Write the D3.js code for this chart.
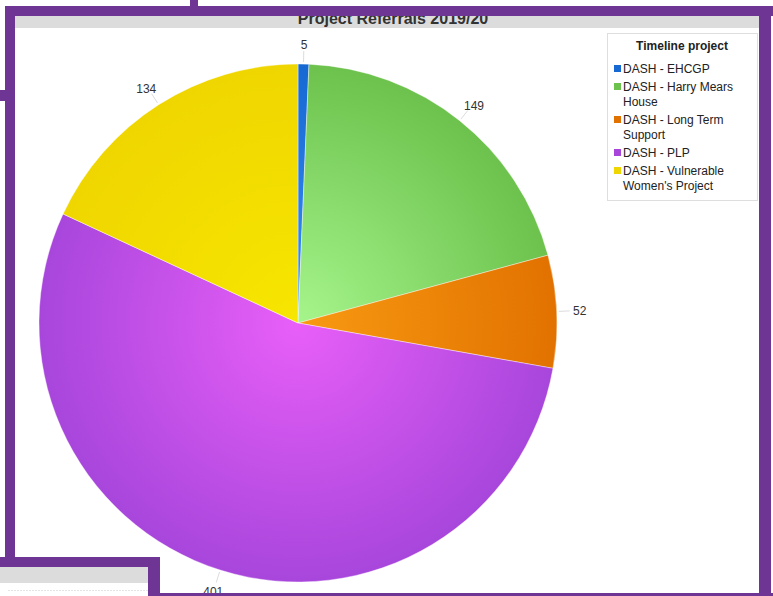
<!DOCTYPE html>
<html><head><meta charset="utf-8">
<script src="https://cdn.jsdelivr.net/npm/d3@7"></script>
<style>html,body{margin:0;padding:0;background:#fff;}svg{display:block;font-family:"Liberation Sans",Arial,sans-serif;}</style>
</head><body>
<svg id="c" width="773" height="596"></svg>
<script>
const title = "Project Referrals 2019/20";
const legendTitle = "Timeline project";
const categories = ["DASH - EHCGP", "DASH - Harry Mears House", "DASH - Long Term Support", "DASH - PLP", "DASH - Vulnerable Women's Project"];
const values = [5, 149, 52, 401, 134];
const baseColors = ["#1668d2", "#6cc24c", "#e27200", "#a846dc", "#efd600"];
const centerColors = ["#3a90f4", "#a6f58c", "#f89a12", "#e85ff8", "#f7e600"];

const svg = d3.select("#c");
const cx = 298, cy = 323, R = 259;

// title (partly hidden behind frame)
svg.append("rect").attr("x", 15).attr("y", 16).attr("width", 745).attr("height", 12).attr("fill", "#dcdcdc");
svg.append("text").attr("x", 393).attr("y", 23.5).attr("text-anchor", "middle")
  .attr("font-size", 16).attr("font-weight", "bold").attr("fill", "#333").text(title);

const defs = svg.append("defs");
baseColors.forEach((c, i) => {
  const gr = defs.append("radialGradient").attr("id", "g" + i)
    .attr("gradientUnits", "userSpaceOnUse").attr("cx", 0).attr("cy", 0).attr("r", R);
  gr.append("stop").attr("offset", "0%").attr("stop-color", centerColors[i]);
  gr.append("stop").attr("offset", "100%").attr("stop-color", c);
});

const pie = d3.pie().sort(null).value(d => d)(values);
const arc = d3.arc().innerRadius(0).outerRadius(R);
const g = svg.append("g").attr("transform", `translate(${cx},${cy})`);
g.selectAll("path.s").data(pie).join("path").attr("class", "s")
  .attr("d", arc).attr("fill", (d, i) => `url(#g${i})`)
  .attr("stroke", "#ffffff").attr("stroke-width", 0.4);

const lineArcIn = d3.arc().innerRadius(R + 2).outerRadius(R + 2);
const lineArcOut = d3.arc().innerRadius(R + 13).outerRadius(R + 13);
const labArc = d3.arc().innerRadius(R + 23).outerRadius(R + 23);
g.selectAll("line.l").data(pie).join("line").attr("class", "l")
  .attr("x1", d => lineArcIn.centroid(d)[0]).attr("y1", d => lineArcIn.centroid(d)[1])
  .attr("x2", d => lineArcOut.centroid(d)[0]).attr("y2", d => lineArcOut.centroid(d)[1])
  .attr("stroke", "#dcdcdc").attr("stroke-width", 1);
g.selectAll("text.v").data(pie).join("text").attr("class", "v")
  .attr("x", d => labArc.centroid(d)[0])
  .attr("y", d => { const p = labArc.centroid(d); return p[1] + (p[1] < -100 ? 7.5 : 4.5); })
  .attr("text-anchor", "middle").attr("font-size", 12).attr("fill", "#333")
  .text(d => d.data);

// legend
const lg = svg.append("g");
lg.append("rect").attr("x", 607.5).attr("y", 33.5).attr("width", 150).attr("height", 167)
  .attr("fill", "#fff").attr("stroke", "#dedede");
lg.append("text").attr("x", 682).attr("y", 50).attr("text-anchor", "middle")
  .attr("font-size", 12).attr("font-weight", "bold").attr("fill", "#222").text(legendTitle);
let y = 73;
categories.forEach((c, i) => {
  lg.append("rect").attr("x", 614).attr("y", y - 8).attr("width", 7).attr("height", 7).attr("fill", baseColors[i]);
  const words = c.split(" ");
  const t = lg.append("text").attr("font-size", 12).attr("fill", "#222");
  let line = [], ts = t.append("tspan").attr("x", 623).attr("y", y);
  let lines = 1;
  words.forEach(w => {
    line.push(w);
    ts.text(line.join(" "));
    if (ts.node().getComputedTextLength() > 128 && line.length > 1) {
      line.pop(); ts.text(line.join(" "));
      line = [w];
      ts = t.append("tspan").attr("x", 623).attr("y", y + 15 * lines).text(w);
      lines++;
    }
  });
  y += 15 * lines + 3;
});

// frame
const P = "#6f3594";
const fr = svg.append("g").attr("fill", P);
fr.append("rect").attr("x", 5).attr("y", 6).attr("width", 768).attr("height", 10);
fr.append("rect").attr("x", 190).attr("y", 0).attr("width", 8).attr("height", 7);
fr.append("rect").attr("x", 5).attr("y", 6).attr("width", 10).attr("height", 560);
fr.append("rect").attr("x", 0).attr("y", 90).attr("width", 6).attr("height", 11);
fr.append("rect").attr("x", 759).attr("y", 6).attr("width", 12).attr("height", 590);
fr.append("rect").attr("x", 148).attr("y", 593).attr("width", 625).attr("height", 3);
// lower-left window
svg.append("rect").attr("x", 0).attr("y", 567).attr("width", 148).attr("height", 29).attr("fill", "#fff");
svg.append("rect").attr("x", 0).attr("y", 567).attr("width", 148).attr("height", 16).attr("fill", "#dcdcdc");
svg.append("line").attr("x1", 8).attr("x2", 148).attr("y1", 590.5).attr("y2", 590.5)
  .attr("stroke", "#e4e4e4").attr("stroke-dasharray", "2,1");
fr.append("rect").attr("x", 0).attr("y", 557).attr("width", 160).attr("height", 10);
fr.append("rect").attr("x", 148).attr("y", 557).attr("width", 12).attr("height", 39);
</script>
</body></html>
